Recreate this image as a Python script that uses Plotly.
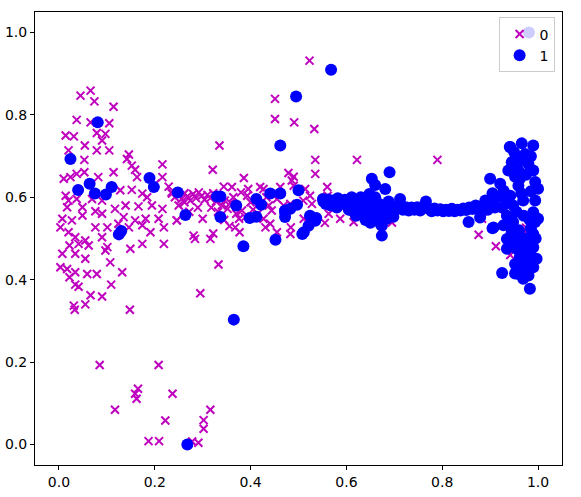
import plotly.graph_objects as go

# class 0 (magenta crosses)
x0 = [0.045, 0.066, 0.074, 0.114, 0.037, 0.066, 0.105, 0.014, 0.031, 0.079, 0.097, 0.090, 0.054, 0.079, 0.105,
      0.020, 0.053, 0.146, 0.142, 0.152, 0.159, 0.216, 0.114, 0.053, 0.037, 0.010, 0.024, 0.082, 0.163, 0.216,
      0.201, 0.128, 0.152, 0.174, 0.184, 0.229, 0.236, 0.014, 0.020, 0.037, 0.069, 0.090, 0.117, 0.139, 0.166,
      0.194, 0.216, 0.017, 0.049, 0.076, 0.090, 0.049, 0.007, 0.027, 0.135, 0.159, 0.181, 0.208, 0.246, 0.003,
      0.020, 0.076, 0.101, 0.124, 0.146, 0.174, 0.219, 0.191, 0.034, 0.055, 0.090, 0.022, 0.041, 0.062, 0.101,
      0.149, 0.174, 0.219, 0.007, 0.034, 0.055, 0.097, 0.107, 0.003, 0.017, 0.034, 0.059, 0.079, 0.132, 0.022,
      0.034, 0.041, 0.109, 0.066, 0.090, 0.295, 0.031, 0.033, 0.055, 0.148, 0.085, 0.208, 0.165, 0.159, 0.162,
      0.237, 0.117, 0.316, 0.222, 0.302, 0.302, 0.187, 0.209, 0.278, 0.291,
      0.451, 0.451, 0.491, 0.533, 0.335, 0.535, 0.321, 0.535, 0.479, 0.490, 0.386, 0.344, 0.361, 0.420, 0.560,
      0.462, 0.246, 0.281, 0.284, 0.316, 0.322, 0.368, 0.377, 0.484, 0.455, 0.555, 0.333, 0.563, 0.587, 0.510,
      0.523, 0.622, 0.486, 0.427, 0.393, 0.400, 0.438, 0.444, 0.455, 0.469, 0.483, 0.490, 0.514, 0.524, 0.528,
      0.561, 0.382, 0.389, 0.427, 0.441, 0.431, 0.483, 0.511, 0.615,
      0.235, 0.242, 0.250, 0.256, 0.262, 0.268, 0.274, 0.280, 0.286, 0.292, 0.298, 0.304, 0.310, 0.316, 0.322,
      0.328, 0.334, 0.340, 0.346, 0.352, 0.358, 0.364, 0.370, 0.376, 0.318, 0.332, 0.290, 0.272, 0.300, 0.345,
      0.356, 0.395, 0.405, 0.415, 0.433, 0.380, 0.250, 0.262,
      0.790, 0.876, 0.912, 0.942, 0.629, 0.695, 0.632, 0.975, 0.931, 0.883, 0.973]
y0 = [0.847, 0.859, 0.833, 0.820, 0.788, 0.782, 0.780, 0.750, 0.748, 0.756, 0.754, 0.738, 0.726, 0.714, 0.714,
      0.714, 0.691, 0.704, 0.693, 0.677, 0.667, 0.680, 0.661, 0.661, 0.657, 0.645, 0.649, 0.649, 0.649, 0.649,
      0.633, 0.617, 0.618, 0.609, 0.600, 0.626, 0.609, 0.604, 0.592, 0.596, 0.596, 0.592, 0.572, 0.580, 0.578,
      0.580, 0.572, 0.576, 0.576, 0.566, 0.560, 0.556, 0.548, 0.544, 0.552, 0.544, 0.548, 0.548, 0.544, 0.527,
      0.515, 0.527, 0.527, 0.536, 0.527, 0.532, 0.527, 0.515, 0.503, 0.495, 0.503, 0.483, 0.487, 0.483, 0.479,
      0.475, 0.487, 0.487, 0.463, 0.463, 0.451, 0.471, 0.442, 0.430, 0.426, 0.418, 0.414, 0.414, 0.418, 0.406,
      0.388, 0.383, 0.388, 0.362, 0.359, 0.367, 0.337, 0.327, 0.340, 0.327, 0.193, 0.193, 0.135, 0.123, 0.111,
      0.123, 0.084, 0.084, 0.058, 0.059, 0.038, 0.008, 0.008, 0.007, 0.004,
      0.839, 0.790, 0.782, 0.766, 0.726, 0.691, 0.667, 0.657, 0.659, 0.650, 0.647, 0.626, 0.625, 0.625, 0.625,
      0.625, 0.544, 0.507, 0.499, 0.499, 0.512, 0.527, 0.515, 0.527, 0.515, 0.538, 0.437, 0.560, 0.548, 0.592,
      0.932, 0.691, 0.641, 0.620, 0.604, 0.588, 0.580, 0.568, 0.596, 0.580, 0.584, 0.628, 0.620, 0.604, 0.584,
      0.604, 0.568, 0.552, 0.548, 0.536, 0.527, 0.511, 0.548, 0.540,
      0.612, 0.600, 0.606, 0.596, 0.610, 0.602, 0.592, 0.608, 0.598, 0.612, 0.604, 0.594, 0.606, 0.598, 0.610,
      0.590, 0.604, 0.580, 0.592, 0.572, 0.586, 0.600, 0.560, 0.548, 0.575, 0.565, 0.575, 0.565, 0.548, 0.545,
      0.530, 0.620, 0.570, 0.560, 0.600, 0.612, 0.580, 0.588,
      0.691, 0.509, 0.481, 0.460, 0.557, 0.539, 0.600, 0.526, 0.571, 0.548, 0.518]

# class 1 (blue dots)
x1 = [0.081, 0.024, 0.040, 0.064, 0.075, 0.098, 0.110, 0.189, 0.198, 0.248, 0.264, 0.130, 0.125, 0.268, 0.365,
      0.495, 0.462, 0.330, 0.337, 0.337, 0.370, 0.385, 0.398, 0.412, 0.412, 0.422, 0.441, 0.462, 0.452, 0.472,
      0.472, 0.483, 0.497, 0.500, 0.508, 0.521, 0.524, 0.537, 0.551, 0.568, 0.472, 0.535, 0.511,
      0.690, 0.653, 0.660, 0.681, 0.712, 0.766, 0.674, 0.674, 0.855, 0.648, 0.611, 0.672, 0.698, 0.653, 0.615,
      0.905, 0.900, 0.921, 0.941, 0.925, 0.952,
      0.552, 0.557, 0.562, 0.567, 0.572, 0.577, 0.582, 0.587, 0.592, 0.597, 0.602, 0.607, 0.612, 0.617, 0.622,
      0.627, 0.632, 0.637, 0.642, 0.647, 0.652, 0.657, 0.662, 0.667, 0.670, 0.677, 0.684, 0.688, 0.694, 0.630,
      0.640, 0.660, 0.650, 0.620, 0.605, 0.580, 0.668, 0.685,
      0.700, 0.706, 0.712, 0.718, 0.724, 0.730, 0.736, 0.742, 0.748, 0.754, 0.760, 0.772, 0.778, 0.784, 0.790,
      0.796, 0.802, 0.808, 0.814, 0.820, 0.826, 0.832, 0.838, 0.844, 0.850, 0.856, 0.862,
      0.942, 0.966, 0.990, 0.956, 0.973, 0.980, 0.938, 0.959, 0.990, 0.962, 0.994, 0.959, 1.000, 0.928, 0.942,
      0.969, 0.994, 0.914, 0.900, 0.886, 0.865, 0.948, 0.990, 1.000, 0.983, 0.948, 0.907, 0.879,
      0.950, 0.965, 0.945, 0.985, 0.975, 0.952, 0.985, 0.965, 0.935, 0.955, 0.970, 0.925, 0.910, 0.895, 0.880,
      0.870, 0.890, 0.905, 0.935,
      0.928, 0.942, 0.994, 0.990, 0.935, 0.948, 0.962, 0.976, 0.990, 0.955, 0.969, 0.997, 0.983, 0.962, 0.952,
      0.969, 0.990, 0.959, 0.980, 0.969, 0.983, 0.935,
      0.960, 0.975, 0.985, 0.955, 0.945, 0.965, 0.975, 0.985, 0.995, 0.980, 0.981]
y1 = [0.782, 0.693, 0.618, 0.633, 0.609, 0.607, 0.625, 0.647, 0.625, 0.612, 0.557, 0.518, 0.510, 0.000, 0.303,
      0.845, 0.726, 0.602, 0.602, 0.552, 0.580, 0.481, 0.550, 0.553, 0.596, 0.582, 0.609, 0.609, 0.497, 0.552,
      0.568, 0.572, 0.582, 0.617, 0.511, 0.531, 0.555, 0.550, 0.596, 0.910, 0.563, 0.543, 0.515,
      0.661, 0.645, 0.630, 0.620, 0.596, 0.590, 0.531, 0.507, 0.540, 0.608, 0.600, 0.534, 0.553, 0.549, 0.565,
      0.525, 0.645, 0.633, 0.722, 0.416, 0.415,
      0.590, 0.584, 0.595, 0.580, 0.592, 0.586, 0.598, 0.583, 0.590, 0.594, 0.586, 0.580, 0.592, 0.575, 0.585,
      0.570, 0.582, 0.560, 0.575, 0.590, 0.580, 0.570, 0.556, 0.585, 0.565, 0.575, 0.560, 0.590, 0.578, 0.600,
      0.545, 0.600, 0.538, 0.555, 0.570, 0.575, 0.545, 0.548,
      0.578, 0.572, 0.580, 0.570, 0.576, 0.568, 0.575, 0.570, 0.576, 0.568, 0.574, 0.572, 0.566, 0.573, 0.568,
      0.571, 0.566, 0.570, 0.567, 0.572, 0.566, 0.570, 0.568, 0.573, 0.569, 0.575, 0.572,
      0.722, 0.731, 0.726, 0.697, 0.705, 0.681, 0.665, 0.665, 0.665, 0.645, 0.637, 0.628, 0.621, 0.616, 0.604,
      0.592, 0.592, 0.600, 0.588, 0.580, 0.572, 0.580, 0.564, 0.548, 0.544, 0.540, 0.527, 0.551,
      0.710, 0.690, 0.685, 0.700, 0.655, 0.650, 0.615, 0.610, 0.592, 0.565, 0.555, 0.575, 0.575, 0.570, 0.568,
      0.580, 0.592, 0.610, 0.555,
      0.532, 0.540, 0.540, 0.511, 0.499, 0.495, 0.503, 0.487, 0.479, 0.475, 0.467, 0.451, 0.447, 0.455, 0.438,
      0.430, 0.430, 0.414, 0.410, 0.402, 0.378, 0.475,
      0.520, 0.500, 0.525, 0.490, 0.515, 0.445, 0.465, 0.460, 0.500, 0.420, 1.000]

ticks = [0.0, 0.2, 0.4, 0.6, 0.8, 1.0]
tick_text = ["0.0", "0.2", "0.4", "0.6", "0.8", "1.0"]

fig = go.Figure()
fig.add_trace(go.Scatter(x=x0, y=y0, mode="markers", name="0",
                         marker=dict(symbol="x-thin", size=8, color="#bf00bf",
                                     line=dict(width=2, color="#bf00bf"))))
fig.add_trace(go.Scatter(x=x1, y=y1, mode="markers", name="1",
                         marker=dict(symbol="circle", size=12, color="#0000ff")))

axis = dict(range=[-0.05, 1.05], tickvals=ticks, ticktext=tick_text, showgrid=False, zeroline=False,
            showline=True, mirror=True, linecolor="black", linewidth=1, automargin=False,
            ticks="outside", ticklen=4, tickwidth=1, tickcolor="black",
            tickfont=dict(family="DejaVu Sans", size=14, color="black"))

fig.update_layout(
    width=581, height=497,
    margin=dict(l=35, r=19, t=12, b=32),
    plot_bgcolor="white", paper_bgcolor="white",
    xaxis=axis, yaxis=axis,
    font=dict(family="DejaVu Sans", size=14, color="black"),
    legend=dict(x=0.986, y=0.988, xanchor="right", yanchor="top",
                bgcolor="rgba(255,255,255,0.8)", bordercolor="#cccccc", borderwidth=1,
                font=dict(size=14), itemwidth=30, tracegroupgap=4),
)

# drop the page's default body margin so the figure sits at the window corner
fig.write_html("out.html", config={"displayModeBar": False},
               post_script="document.body.style.margin = '0';")
